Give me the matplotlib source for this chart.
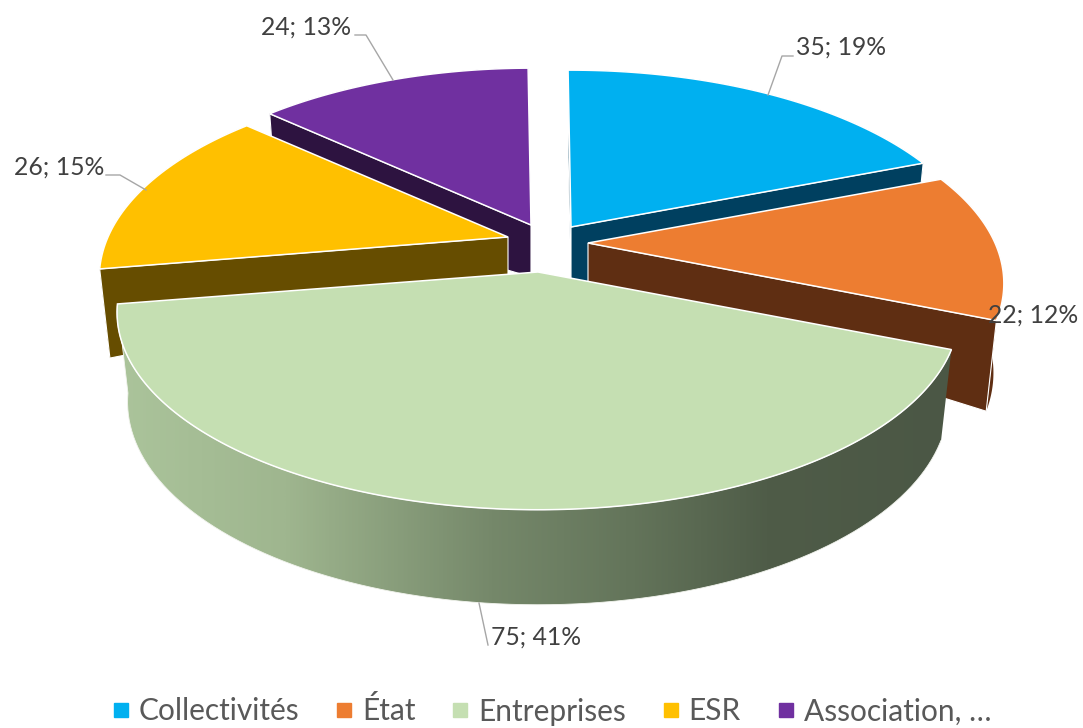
from __future__ import annotations

import numpy as np
from matplotlib import pyplot as plt
from matplotlib.colors import LinearSegmentedColormap
from matplotlib.lines import Line2D
from matplotlib.patches import PathPatch, Polygon
from matplotlib.path import Path

plt.rcParams["font.family"] = ["Lato", "DejaVu Sans"]

categories = ["Collectivités", "État", "Entreprises", "ESR", "Association, …"]
values = [35, 22, 75, 26, 24]
percent_labels = ["19%", "12%", "41%", "15%", "13%"]

colors = ["#00B0F0", "#ED7D31", "#C5DFB2", "#FFC000", "#7030A0"]
side_colors = ["#004060", "#5F2E12", "#55634C", "#664D00", "#2D1340"]

# where each exploded slice has its tip, in pixels of the picture
apexes = [(571, 227), (588, 243), (538, 272), (508, 237), (531, 225)]
radii_x = [406.0, 407.0, 412.0, 400.0, 400.0]
depth_tips = [56.0, 44.0, 31.0, 42.0, 52.0]
draw_order = [4, 0, 3, 1, 2]
start_angle = -0.5

radius_y = 189.0
perspective = 0.205
depth_total = 88.0
depth_front = 7.0
bottom_shrink = 0.975

label_pos = [
    (796, 47, "left"),
    (988, 315, "left"),
    (491, 637, "left"),
    (104, 167, "right"),
    (351, 27, "right"),
]
leaders = [
    [(793, 56), (782, 56), (768, 95)],
    None,
    [(479, 603), (488, 645)],
    [(106, 175), (120, 175), (146, 190)],
    [(355, 35), (366, 35), (393, 80)],
]


def top_point(index, angle, r=1.0):
    apex = apexes[index]
    theta = np.deg2rad(angle)
    u = r * np.sin(theta)
    v = r * np.cos(theta)
    w = 1 + perspective * v
    return np.column_stack([apex[0] + radii_x[index] * u / w, apex[1] - radius_y * v / w])


def bottom_point(index, angle, r=1.0):
    apex = apexes[index]
    v = np.cos(np.deg2rad(angle))
    top = top_point(index, angle, r)
    tip = depth_tips[index]
    depth = tip + r * (depth_total - tip + depth_front * np.maximum(-v, 0))
    return np.column_stack([apex[0] + bottom_shrink * (top[:, 0] - apex[0]), top[:, 1] + depth])


def draw_slice(ax, index, theta1, theta2, zorder):
    angles = np.linspace(theta1, theta2, 200)
    rim_top = top_point(index, angles)
    rim_bottom = bottom_point(index, angles)
    tip_top = np.array([apexes[index]])
    tip_bottom = bottom_point(index, np.array([0.0]), 0.0)
    dark = side_colors[index]

    # outer wall
    wall = np.vstack([rim_top, rim_bottom[::-1]])
    if categories[index] == "Entreprises":
        cmap = LinearSegmentedColormap.from_list(
            "wall",
            [(0.0, "#ABC49B"), (0.2, "#9FB68F"), (0.45, "#75886A"), (0.62, "#63745A"), (0.78, "#4F5C48"), (1.0, "#4B5745")],
        )
        clip = PathPatch(Path(wall), facecolor="none", edgecolor="#F2F4EE", lw=0.6, zorder=zorder + 0.2)
        ax.add_patch(clip)
        image = ax.imshow(
            np.linspace(0, 1, 512).reshape(1, -1),
            cmap=cmap,
            extent=(wall[:, 0].min(), wall[:, 0].max(), wall[:, 1].max(), wall[:, 1].min()),
            aspect="auto",
            zorder=zorder + 0.1,
        )
        image.set_clip_path(clip)
    else:
        ax.add_patch(Polygon(wall, closed=True, facecolor=dark, edgecolor="none", zorder=zorder))

    # only the cut faces turned to the viewer
    ends = []
    if theta1 % 360 > 180:
        ends.append(0)
    if theta2 % 360 < 180:
        ends.append(-1)
    for end in ends:
        face = np.vstack([tip_top, rim_top[end], rim_bottom[end], tip_bottom])
        ax.add_patch(Polygon(face, closed=True, facecolor=dark, edgecolor="white", lw=0.8, zorder=zorder + 0.3))

    top = np.vstack([tip_top, rim_top])
    ax.add_patch(Polygon(top, closed=True, facecolor=colors[index], edgecolor="white", lw=1.1, zorder=zorder + 0.5))


def main() -> None:
    fig = plt.figure(figsize=(10.83, 7.28), dpi=100)
    ax = fig.add_axes([0, 0, 1, 1])

    sweep = np.array(values, dtype=float) / sum(values) * 360.0
    starts = start_angle + np.concatenate([[0.0], np.cumsum(sweep)[:-1]])

    for step, index in enumerate(draw_order):
        draw_slice(ax, index, starts[index], starts[index] + sweep[index], 2 + step)

    ax.set_xlim(0, 1083)
    ax.set_ylim(728, 0)
    ax.axis("off")

    for index, value in enumerate(values):
        x, y, align = label_pos[index]
        ax.text(
            x, y, f"{value}; {percent_labels[index]}",
            fontsize=17.8, color="#404040", ha=align, va="center", zorder=20,
        )
        if leaders[index] is not None:
            path = np.array(leaders[index])
            ax.plot(path[:, 0], path[:, 1], color="#A6A6A6", lw=1.0, zorder=19)

    handles = [
        Line2D([], [], linestyle="none", marker="s", ms=9.5, color=color, label=name)
        for color, name in zip(colors, categories)
    ]
    ax.legend(
        handles=handles,
        ncol=5,
        loc="center",
        bbox_to_anchor=(0.5 + 7 / 1083, 1 - 711 / 728),
        frameon=False,
        fontsize=21.5,
        labelcolor="#595959",
        handlelength=1.0,
        handletextpad=0.1,
        columnspacing=1.0,
        borderpad=0,
    )

    fig.savefig("out.png", dpi=100, facecolor="white")


if __name__ == "__main__":
    main()
